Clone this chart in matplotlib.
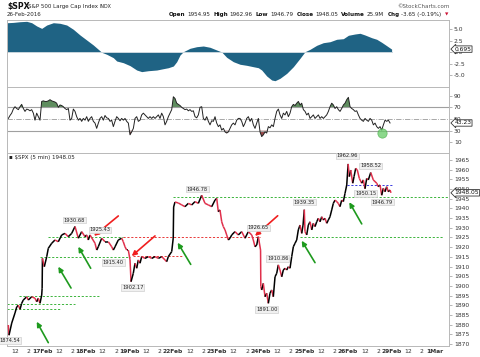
import numpy as np
import matplotlib
matplotlib.use('Agg')
import matplotlib.pyplot as plt
from matplotlib.collections import LineCollection
import matplotlib.transforms as mtransforms

plt.rcParams['font.family'] = ['DejaVu Sans']

# ---------------- data (x = trading days since 16-Feb open) ----------------
price_t = [0.229, 0.245, 0.307, 0.382, 0.421, 0.458, 0.497, 0.535, 0.572, 0.650, 0.686, 0.764, 0.840, 0.879, 0.915, 0.954, 0.993,
           1.003, 1.010, 1.053, 1.108, 1.144, 1.222, 1.297, 1.373, 1.451, 1.526, 1.602, 1.679, 1.755, 1.831, 1.908, 1.984,
           2.023, 2.059, 2.098, 2.213, 2.252, 2.288, 2.366, 2.442, 2.517, 2.595, 2.632, 2.671, 2.746, 2.824, 2.860, 2.899, 2.938, 2.975,
           3.014, 3.037, 3.089, 3.128, 3.167, 3.204, 3.243, 3.281, 3.357, 3.432, 3.510, 3.586, 3.664, 3.739, 3.815, 3.853, 3.890, 3.968,
           4.003, 4.012, 4.043, 4.119, 4.197, 4.272, 4.348, 4.426, 4.501, 4.577, 4.654, 4.730, 4.806, 4.883, 4.959, 4.998,
           5.034, 5.073, 5.112, 5.149, 5.188, 5.226, 5.263, 5.302, 5.341, 5.416, 5.492, 5.570, 5.645, 5.721, 5.799, 5.835, 5.874, 5.913, 5.950,
           6.001, 6.007, 6.027, 6.064, 6.103, 6.142, 6.179, 6.217, 6.256, 6.293, 6.332, 6.371, 6.407, 6.446, 6.485, 6.522, 6.561, 6.600,
           6.636, 6.675, 6.714, 6.751, 6.790, 6.828, 6.865, 6.904, 6.943, 6.973,
           7.002, 7.018, 7.057, 7.094, 7.133, 7.172, 7.208, 7.247, 7.286, 7.323, 7.362, 7.401, 7.437, 7.476, 7.515, 7.552, 7.590, 7.629,
           7.666, 7.705, 7.744, 7.780, 7.819, 7.858, 7.895, 7.934, 7.973,
           8.005, 8.032, 8.064, 8.110, 8.140, 8.178, 8.215, 8.261, 8.316, 8.353, 8.391, 8.430, 8.467, 8.522, 8.581, 8.659, 8.696, 8.735,
           8.773, 8.810, 8.849, 8.888, 8.924, 8.963, 8.986]
price_v = [1879.8, 1874.54, 1880.8, 1886.0, 1889.1, 1890.1, 1887.9, 1891.0, 1892.7, 1894.4, 1892.7, 1894.4, 1893.6, 1891.8, 1893.6, 1891.0, 1895.3,
           1898.8, 1914.2, 1909.9, 1915.1, 1919.4, 1922.0, 1923.7, 1922.8, 1926.3, 1927.1, 1925.4, 1927.1, 1930.68, 1924.6, 1928.0, 1925.4,
           1926.3, 1923.7, 1926.3, 1922.0, 1918.5, 1920.2, 1924.6, 1922.8, 1922.8, 1920.2, 1918.5, 1920.2, 1923.7, 1924.6, 1922.8, 1920.2, 1918.5, 1918.5,
           1913.4, 1902.17, 1906.5, 1911.7, 1909.1, 1913.4, 1911.7, 1915.1, 1914.2, 1915.1, 1914.2, 1915.1, 1914.2, 1915.1, 1913.4, 1912.5, 1915.1, 1917.7,
           1924.7, 1940.7, 1943.3, 1942.8, 1941.8, 1940.9, 1942.6, 1941.8, 1943.5, 1942.6, 1946.78, 1942.6, 1941.8, 1940.9, 1944.3, 1945.2,
           1938.3, 1939.2, 1933.1, 1930.6, 1928.9, 1926.3, 1923.7, 1924.6, 1926.3, 1928.0, 1926.3, 1928.0, 1924.6, 1928.0, 1926.3, 1923.7, 1920.2, 1921.1, 1925.4,
           1918.5, 1899.6, 1897.9, 1901.3, 1894.4, 1896.2, 1891.0, 1896.2, 1897.9, 1894.4, 1904.7, 1906.5, 1910.86, 1908.2, 1904.7, 1908.2, 1909.1, 1908.2,
           1909.9, 1909.1, 1915.1, 1920.2, 1922.0, 1923.7, 1928.9, 1931.4, 1927.1, 1931.4,
           1939.35, 1928.0, 1926.3, 1931.4, 1933.1, 1928.9, 1932.3, 1930.6, 1933.1, 1934.9, 1933.1, 1935.7, 1934.0, 1934.9, 1932.3, 1934.0, 1935.7, 1939.2,
           1942.6, 1944.3, 1943.5, 1942.6, 1940.9, 1944.3, 1943.5, 1947.8, 1952.1,
           1962.96, 1956.4, 1959.8, 1953.0, 1956.4, 1960.7, 1959.8, 1955.5, 1953.0, 1954.7, 1950.15, 1955.5, 1954.7, 1958.52, 1954.7, 1953.0, 1951.2, 1952.1,
           1946.79, 1950.4, 1948.6, 1951.2, 1948.6, 1949.5, 1948.05]

osc_t = [0.206, 0.343, 0.497, 0.650, 0.764, 0.879, 0.993, 1.108, 1.259, 1.412, 1.565, 1.716, 1.870, 2.023, 2.174, 2.288, 2.366,
         2.481, 2.632, 2.709, 2.860, 3.014, 3.167, 3.281, 3.432, 3.625, 3.776, 3.890, 4.005, 4.082, 4.158, 4.233, 4.387, 4.540,
         4.691, 4.844, 4.998, 5.112, 5.226, 5.378, 5.531, 5.684, 5.835, 5.950, 6.027, 6.142, 6.256, 6.332, 6.446, 6.600, 6.751,
         6.904, 7.018, 7.133, 7.286, 7.437, 7.590, 7.744, 7.895, 8.011, 8.163, 8.277, 8.391, 8.545, 8.659, 8.773, 8.888, 9.0]
osc_v = [6.43, 6.5, 6.65, 6.73, 6.43, 5.72, 5.2, 5.93, 6.43, 6.3, 5.93, 5.0, 3.76, 2.67, 1.59, 0.65, 0.0,
         -0.43, -1.17, -1.89, -2.26, -2.9, -3.85, -4.2, -4.0, -3.85, -3.56, -3.35, -2.98, -2.04, -0.59, 0.13, 0.87, 1.22,
         1.37, 1.09, 0.5, 0.07, -1.09, -2.04, -2.6, -2.83, -3.13, -3.35, -3.85, -5.15, -6.02, -6.17, -5.65, -4.57, -3.13,
         -1.3, 0.13, 0.65, 1.52, 2.09, 2.3, 2.83, 2.96, 3.7, 3.98, 4.13, 3.76, 3.17, 2.83, 2.17, 1.43, 0.695]

rsi_v = [51, 56, 60, 67, 71, 68, 66, 71, 75, 68, 63, 67, 66, 64, 66, 60, 48, 60, 54, 48,
         80, 81, 80, 80, 81, 83, 81, 80, 79, 77, 70, 74, 73, 71, 68, 66, 68, 48, 51, 67,
         63, 54, 48, 51, 46, 51, 48, 54, 46, 51, 54, 46, 43, 34, 43, 51, 54, 48, 56, 52,
         51, 46, 48, 37, 46, 54, 51, 47, 51, 48, 51, 46, 43, 23, 28, 34, 51, 54, 46, 48,
         57, 60, 57, 54, 51, 54, 51, 54, 51, 54, 57, 51, 60, 54, 40, 46, 54, 60, 66, 88,
         85, 77, 75, 73, 70, 68, 66, 67, 64, 66, 63, 64, 54, 52, 57, 70, 71, 51, 48, 54,
         46, 40, 47, 46, 54, 43, 37, 40, 31, 34, 28, 26, 28, 34, 40, 43, 40, 48, 51,
         51, 46, 37, 43, 51, 54, 46, 51, 40, 34, 43, 51, 28, 20, 23, 28, 26, 37, 35, 40,
         37, 51, 63, 67, 57, 51, 60, 57, 63, 54, 60, 71, 75, 73, 77, 80, 74, 77, 66, 63,
         57, 60, 51, 54, 57, 51, 54, 57, 51, 54, 51, 54, 57, 63, 71, 77, 74, 68, 71, 66,
         63, 68, 74, 77, 83, 87, 71, 68, 66, 63, 64, 57, 51, 48, 46, 51, 48, 46, 51, 48,
         40, 43, 37, 34, 37, 31, 40, 48, 46, 48, 43.23]
rsi_t = np.linspace(0.2296, 8.964, len(rsi_v))

day_labels = ['17Feb', '18Feb', '19Feb', '22Feb', '23Feb', '24Feb', '25Feb', '26Feb', '29Feb', '1Mar']

# horizontal support/resistance lines: (price, x0, x1, color)
hlines = [(1925.2, 1.137, 2.854, 'g'), (1925.0, 2.854, 5.989, 'r'), (1925.2, 6.904, 10.18, 'g'),
          (1914.9, 0.954, 3.014, 'g'), (1915.4, 3.082, 4.204, 'r'),
          (1894.9, 0.474, 2.304, 'g'), (1890.5, 0.199, 1.755, 'g'), (1887.9, 0.199, 1.435, 'g'),
          (1946.1, 3.998, 10.313, 'g'), (1952.1, 7.973, 9.0, 'b')]
# arrows: (tail_t, tail_p, head_t, head_p, color)
arrows = [(1.144, 1870.7, 0.879, 1881.5, 'g'), (1.664, 1898.9, 1.373, 1909.9, 'g'),
          (2.114, 1909.1, 1.831, 1920.2, 'g'), (4.403, 1911.1, 4.105, 1922.3, 'g'),
          (7.247, 1912.0, 6.943, 1923.3, 'g'), (8.316, 1932.0, 8.032, 1943.2, 'g'),
          (2.746, 1936.1, 2.190, 1925.8, 'r'), (3.586, 1925.8, 3.053, 1915.4, 'r'),
          (6.393, 1936.2, 5.874, 1925.8, 'r')]
# price labels: (t, p, text)
plabels = [(0.268, 1871.7, '1874.54'), (1.739, 1934.0, '1930.68'), (2.327, 1928.9, '1925.43'),
           (2.632, 1912.2, '1915.40'), (3.076, 1899.3, '1902.17'), (4.554, 1950.0, '1946.78'),
           (5.950, 1930.0, '1926.65'), (6.393, 1914.2, '1910.86'), (6.142, 1887.9, '1891.00'),
           (7.002, 1943.2, '1939.35'), (7.986, 1967.1, '1962.96'), (8.522, 1961.9, '1958.52'),
           (8.407, 1947.8, '1950.15'), (8.787, 1943.2, '1946.79')]

# ---------------- figure ----------------
W, H = 480, 357
fig = plt.figure(figsize=(W / 100, H / 100), dpi=100)

def rect(x0, y0, x1, y1):
    return [x0 / W, 1 - y1 / H, (x1 - x0) / W, (y1 - y0) / H]

ax_top = fig.add_axes(rect(7, 20, 449, 87))
ax_rsi = fig.add_axes(rect(7, 87, 449, 153))
ax_main = fig.add_axes(rect(7, 153, 449, 346))

XL = (0.199, 10.313)
frame_c = '#b8b8b8'
tick_fs = 4.3
for ax in (ax_top, ax_rsi, ax_main):
    ax.set_xlim(*XL)
    for s in ax.spines.values():
        s.set_color(frame_c)
        s.set_linewidth(0.7)
    ax.yaxis.tick_right()
    ax.tick_params(axis='y', length=2, width=0.5, color='#999999', labelsize=tick_fs,
                   labelcolor='#333333', pad=1.5)
    ax.tick_params(axis='x', length=0)
ax_top.set_xticks([])
ax_rsi.set_xticks([])

# --- top oscillator panel ---
ax_top.fill_between(osc_t, 0, osc_v, color='#1f6384', lw=0)
ax_top.plot([osc_t[0], osc_t[-1]], [0, 0], color='#c9d6de', lw=0.7)
ax_top.set_ylim(-7.54, 7.02)
ax_top.set_yticks([5.0, 2.5, 0.0, -2.5, -5.0])
ax_top.set_yticklabels(['5.0', '2.5', '0.0', '-2.5', '-5.0'])

# --- RSI panel ---
rv = np.array(rsi_v, dtype=float)
ax_rsi.axhline(70, color='#a0a0a0', lw=0.8)
ax_rsi.axhline(30, color='#a0a0a0', lw=0.8)
ax_rsi.axhline(50, color='#9a9a9a', lw=0.6, ls='-.')
ax_rsi.fill_between(rsi_t, 70, rv, where=rv > 70, interpolate=True, color='#5f8d5f', lw=0)
ax_rsi.fill_between(rsi_t, 30, rv, where=rv < 30, interpolate=True, color='#9c4a4a', lw=0)
ax_rsi.plot(rsi_t, rv, color='#222222', lw=0.7)
ax_rsi.scatter([8.773], [25.6], s=45, color='#66cc66', alpha=0.75, edgecolors='#44aa44', linewidths=0.5, zorder=5)
ax_rsi.set_ylim(-8.1, 104.7)
ax_rsi.set_yticks([90, 70, 50, 30, 10])

# --- main price panel ---
pt = np.array(price_t)
pv = np.array(price_v)
segs = np.stack([np.column_stack([pt[:-1], pv[:-1]]), np.column_stack([pt[1:], pv[1:]])], axis=1)
cols = ['#000000' if pv[i + 1] >= pv[i] else '#e0304c' for i in range(len(pv) - 1)]
ax_main.add_collection(LineCollection(segs, colors=cols, linewidths=1.1, zorder=3))
ax_main.set_ylim(1868.97, 1968.6)
ax_main.set_yticks(np.arange(1870, 1966, 5))

cmap = {'g': '#3cb43c', 'r': '#e83a3a', 'b': '#3a3ae0'}
for y, x0, x1, c in hlines:
    ax_main.plot([x0, x1], [y, y], color=cmap[c], lw=0.7, ls=(0, (2.2, 1.8)), zorder=2)

acol = {'g': '#1e9a1e', 'r': '#f01e1e'}
for tx, tp, hx, hp, c in arrows:
    ax_main.annotate('', xy=(hx, hp), xytext=(tx, tp),
                     arrowprops=dict(arrowstyle='-|>', color=acol[c], lw=1.2, mutation_scale=7,
                                     shrinkA=0, shrinkB=0), zorder=6)

for t, p, s in plabels:
    ax_main.text(t, p, s, fontsize=3.7, ha='center', va='center', color='#222222', zorder=7,
                 bbox=dict(boxstyle='square,pad=0.15', fc='#f0f0f0', ec='#cfcfcf', lw=0.5))

# x ticks (12, 2, date)
xt, xl = [], []
for d in range(0, 11):
    for off, lab in ((0.0, None), (2.5 / 6.5, '12'), (4.5 / 6.5, '2')):
        pos = d + off
        if XL[0] <= pos <= XL[1]:
            xt.append(pos)
            xl.append(day_labels[d - 1] if lab is None else lab)
ax_main.set_xticks(xt)
ax_main.set_xticklabels(xl)
ax_main.tick_params(axis='x', labelsize=tick_fs, pad=2, labelcolor='#333333')
for lab in ax_main.get_xticklabels():
    if lab.get_text() not in ('12', '2'):
        lab.set_fontweight('bold')

# value boxes on right axes
def value_box(ax, y, s):
    tr = mtransforms.blended_transform_factory(ax.transAxes, ax.transData)
    ax.text(1.012, y, s, transform=tr, fontsize=tick_fs, ha='left', va='center', color='#111111',
            zorder=10, clip_on=False,
            bbox=dict(boxstyle='larrow,pad=0.12', fc='white', ec='#333333', lw=0.6))

value_box(ax_main, 1948.05, '1948.05')
value_box(ax_top, 0.695, '0.695')
value_box(ax_rsi, 43.23, '43.23')

# ---------------- header text ----------------
def fx(px):
    return px / W

def fy(py):
    return 1 - py / H

fig.text(fx(7), fy(6.5), '$SPX', fontsize=5.6, fontweight='bold', va='center', ha='left', color='#111111')
fig.text(fx(28.5), fy(6.5), 'S&P 500 Large Cap Index', fontsize=4.0, va='center', ha='left', color='#222222')
fig.text(fx(100), fy(6.5), 'INDX', fontsize=3.4, va='center', ha='left', color='#222222')
fig.text(fx(7), fy(14.5), '26-Feb-2016', fontsize=4.0, va='center', ha='left', color='#222222')
fig.text(fx(450), fy(6.5), '\u00a9StockCharts.com', fontsize=4.0, va='center', ha='right', color='#555555')
fig.text(fx(9), fy(157.5), '\u25aa $SPX (5 min) 1948.05', fontsize=4.0, va='center', ha='left', color='#222222')

pieces = [('Open', True, '#111111'), ('1954.95', False, '#222222'), ('High', True, '#111111'),
          ('1962.96', False, '#222222'), ('Low', True, '#111111'), ('1946.79', False, '#222222'),
          ('Close', True, '#111111'), ('1948.05', False, '#222222'), ('Volume', True, '#111111'),
          ('25.9M', False, '#222222'), ('Chg', True, '#111111'), ('-3.65 (-0.19%)', False, '#222222'),
          ('\u25bc', False, '#cc1133')]
renderer = fig.canvas.get_renderer()
x = 448.0
for i, (s, b, c) in enumerate(reversed(pieces)):
    t = fig.text(fx(x), fy(14.5), s, fontsize=4.1 if s != '\u25bc' else 3.2,
                 fontweight='bold' if b else 'normal', color=c, ha='right', va='center')
    w = t.get_window_extent(renderer).width
    nxt = list(reversed(pieces))[i + 1][1] if i + 1 < len(pieces) else False
    x -= w + (1.8 if nxt else 3.2)

fig.savefig('out.png', dpi=100)
